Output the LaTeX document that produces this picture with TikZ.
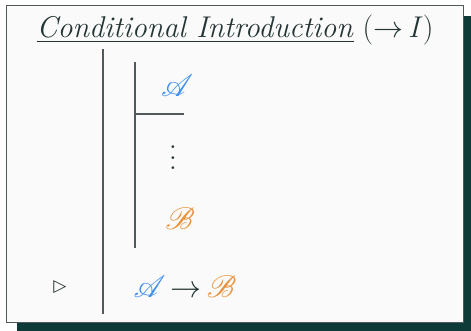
\RequirePackage{fix-cm}
\documentclass[tikz,border=0pt]{standalone}
\usepackage{amsmath}
\usepackage{mathrsfs}
\usepackage{amssymb}
\usepackage{fontspec}
\newfontfamily\dejavu{DejaVu Sans}
\definecolor{ink}{HTML}{253535}
\definecolor{rulec}{HTML}{505A5A}
\definecolor{shadowc}{HTML}{0E3B38}
\definecolor{paper}{HTML}{FAFAFA}
\definecolor{blueA}{HTML}{3D8EF0}
\definecolor{orangeB}{HTML}{E8913A}
\tikzset{
  rulev/.style={draw=rulec, line width=1.2pt},
  mathtxt/.style={inner sep=0pt, scale=3.1},
}
\begin{document}
\begin{tikzpicture}[x=1pt,y=-1pt]
\useasboundingbox (0,0) rectangle (471,330);
\fill[white] (0,0) rectangle (471,330);
% shadow
\fill[shadowc] (17,16) rectangle (473,332);
% frame
\draw[fill=paper, draw=rulec, line width=1.5pt] (6.5,5.5) rectangle (463.5,322.5);
% title
\node[anchor=base, text=ink, inner sep=0pt, font=\fontsize{30}{34}\selectfont] (title) at (235,37)
  {\underline{\textit{Conditional Introduction}}\ ($\rightarrow$\,\textit{I})};
% outer rule
\coordinate (o1) at (103,49);
\coordinate (o2) at (103,314);
\draw[rulev] (o1) -- (o2);
% inner rule
\coordinate (i1) at (135,62);
\coordinate (i2) at (135,248);
\coordinate (h2) at (184,114);
\coordinate (h1) at (135,114);
\draw[rulev] (i1) -- (i2);
\draw[rulev] (h1) -- (h2);
% formulas
\node[mathtxt, text=blueA] (A) at (177,86) {$\mathscr{A}$};
\node[inner sep=0pt, text=ink, scale=2.6] (dots) at (173,150) {$\vdots$};
\node[mathtxt, text=orangeB] (B) at (180,219) {$\mathscr{B}$};
\node[inner sep=0pt, text=ink, font=\dejavu\bfseries\fontsize{17}{19}\selectfont] (tri) at (60,287) {▷};
\node[mathtxt, anchor=west] (concl) at (133,287)
  {$\textcolor{blueA}{\mathscr{A}}\,\textcolor{ink}{\rightarrow}\,\textcolor{orangeB}{\mathscr{B}}$};
\end{tikzpicture}
\end{document}
